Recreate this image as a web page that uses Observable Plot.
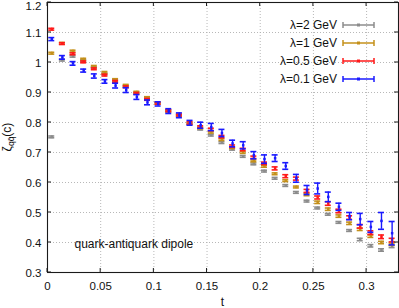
<!DOCTYPE html>
<html><head><meta charset="utf-8">
<script src="https://cdn.jsdelivr.net/npm/d3@7"></script>
<script src="https://cdn.jsdelivr.net/npm/@observablehq/plot@0.6"></script>
<style>
body{margin:0;background:#fff;}
#chart{width:399px;height:308px;}
</style></head><body><div id="chart"></div>
<script>
// ---- data ----
const tValues = [0.004,0.014,0.024,0.034,0.044,0.054,0.064,0.074,0.084,0.094,0.104,0.114,0.124,0.134,0.144,0.154,0.164,0.174,0.184,0.194,0.204,0.214,0.224,0.234,0.244,0.254,0.264,0.274,0.284,0.294,0.304,0.314,0.324];

const zetaL2 = [0.752,1.008,1.021,1.006,0.983,0.962,0.940,0.921,0.898,0.879,0.864,0.838,0.823,0.796,0.778,0.758,0.733,0.711,0.687,0.662,0.638,0.614,0.590,0.567,0.538,0.515,0.494,0.467,0.440,0.410,0.389,0.375,0.387];
const errL2  = [0.003,0.003,0.003,0.003,0.003,0.003,0.003,0.003,0.003,0.003,0.003,0.003,0.003,0.003,0.003,0.003,0.003,0.003,0.003,0.003,0.003,0.003,0.003,0.003,0.003,0.003,0.003,0.003,0.003,0.004,0.004,0.004,0.004];

const zetaL1 = [1.031,1.064,1.038,1.011,0.987,0.967,0.943,0.924,0.901,0.883,0.865,0.839,0.824,0.797,0.782,0.768,0.743,0.716,0.700,0.672,0.654,0.629,0.606,0.585,0.560,0.534,0.511,0.488,0.464,0.444,0.421,0.400,0.394];
const errL1  = [0.003,0.003,0.003,0.003,0.003,0.003,0.003,0.003,0.003,0.003,0.003,0.003,0.003,0.003,0.003,0.003,0.003,0.003,0.003,0.003,0.003,0.003,0.003,0.003,0.004,0.004,0.004,0.004,0.004,0.004,0.004,0.004,0.004];

const zetaL05 = [1.111,1.063,1.029,1.002,0.979,0.958,0.937,0.919,0.897,0.877,0.864,0.839,0.825,0.799,0.785,0.777,0.753,0.721,0.710,0.684,0.664,0.647,0.621,0.613,0.572,0.550,0.530,0.505,0.483,0.454,0.433,0.419,0.408];
const errL05  = [0.003,0.003,0.003,0.003,0.003,0.003,0.003,0.003,0.003,0.003,0.003,0.003,0.003,0.004,0.004,0.004,0.004,0.004,0.004,0.004,0.004,0.005,0.005,0.005,0.005,0.005,0.006,0.006,0.006,0.006,0.006,0.006,0.006];

const zetaL01 = [1.078,1.017,0.997,0.973,0.955,0.937,0.923,0.908,0.885,0.867,0.862,0.838,0.824,0.799,0.791,0.785,0.765,0.730,0.724,0.691,0.678,0.681,0.655,0.614,0.575,0.580,0.552,0.519,0.488,0.478,0.452,0.472,0.431];
const errL01  = [0.005,0.006,0.006,0.005,0.007,0.006,0.008,0.008,0.008,0.008,0.007,0.008,0.008,0.008,0.010,0.012,0.012,0.011,0.012,0.012,0.014,0.011,0.011,0.013,0.015,0.018,0.016,0.012,0.012,0.019,0.018,0.028,0.039];

const seriesNames  = ["λ=2 GeV","λ=1 GeV","λ=0.5 GeV","λ=0.1 GeV"];
const seriesColors = ["#8c8c8c","#c4901a","#ff1a1a","#1a1aff"];
const seriesValues = [zetaL2, zetaL1, zetaL05, zetaL01];
const seriesErrors = [errL2, errL1, errL05, errL01];

const xTicks = [0,0.05,0.1,0.15,0.2,0.25,0.3];
const xTickLabels = ["0","0.05","0.1","0.15","0.2","0.25","0.3"];
const yTicks = [0.3,0.4,0.5,0.6,0.7,0.8,0.9,1.0,1.1,1.2];
const yTickLabels = ["0.3","0.4","0.5","0.6","0.7","0.8","0.9","1","1.1","1.2"];
const annotation = ["quark-antiquark dipole"];

(function(){
// ---- layout ----
const W = 399, H = 308, mL = 47, mR = 1, mT = 2, mB = 36;
const xDomain = [0, 0.33], yDomain = [0.3, 1.2];
const capPx = 3;
const capHalf = capPx * (xDomain[1]-xDomain[0]) / (W - mL - mR);

const xFmt = new Map(xTicks.map((d,i)=>[d, xTickLabels[i]]));
const yFmt = new Map(yTicks.map((d,i)=>[d, yTickLabels[i]]));
const yTopTick = yTicks[yTicks.length-1];

const seriesMarks = seriesValues.flatMap((vals, si) => {
  const rows = tValues.map((t,i)=>({t, v: vals[i], e: seriesErrors[si][i]}));
  const c = seriesColors[si];
  return [
    Plot.ruleX(rows, {x:"t", y1: d=>d.v-d.e, y2: d=>d.v+d.e, stroke:c, strokeWidth:1.4}),
    Plot.ruleY(rows, {y: d=>d.v+d.e, x1: d=>d.t-capHalf, x2: d=>d.t+capHalf, stroke:c, strokeWidth:1.6}),
    Plot.ruleY(rows, {y: d=>d.v-d.e, x1: d=>d.t-capHalf, x2: d=>d.t+capHalf, stroke:c, strokeWidth:1.6}),
    Plot.dot(rows, {x:"t", y:"v", fill:c, r:1.4, symbol:"square"})
  ];
});

const plot = Plot.plot({
  width: W, height: H,
  marginLeft: mL, marginRight: mR, marginTop: mT, marginBottom: mB,
  style: {fontFamily: "'Liberation Sans', Arial, sans-serif", fontSize: "11.5px", color: "#111", background: "#fff"},
  x: {domain: xDomain},
  y: {domain: yDomain},
  marks: [
    Plot.gridX(xTicks, {stroke:"#b0b0b0", strokeOpacity:1, strokeDasharray:"1,2", strokeWidth:0.9}),
    Plot.gridY(yTicks, {stroke:"#b0b0b0", strokeOpacity:1, strokeDasharray:"1,2", strokeWidth:0.9}),
    Plot.axisX(xTicks, {tickFormat: d=>xFmt.get(d), tickSize:0, tickPadding:9.5, label:null}),
    Plot.axisY(yTicks.filter(d=>d!==yTopTick), {tickFormat: d=>yFmt.get(d), tickSize:0, tickPadding:6, dy:1, label:null}),
    Plot.axisY([yTopTick], {tickFormat: d=>yFmt.get(d), tickSize:0, tickPadding:6, dy:4, label:null}),
    ...seriesMarks,
    Plot.text(annotation, {text: d=>d, frameAnchor:"bottom-left", dx:27, dy:-25, textAnchor:"start", lineAnchor:"bottom", fontSize:12, fill:"#111"}),
    Plot.frame({stroke:"#1a1a1a", strokeWidth:1.1})
  ]
});

document.getElementById("chart").appendChild(plot);

// inward ticks on all four sides via the plot's own scales
const sx = plot.scale("x"), sy = plot.scale("y");
const svg = d3.select(plot);
const tk = svg.append("g").attr("stroke","#1a1a1a").attr("stroke-width",1);
const yTop = mT, yBot = H - mB, xLeft = mL, xRight = W - mR;
xTicks.forEach(v => {
  const x = sx.apply(v);
  tk.append("line").attr("x1",x).attr("x2",x).attr("y1",yBot).attr("y2",yBot-4);
  tk.append("line").attr("x1",x).attr("x2",x).attr("y1",yTop).attr("y2",yTop+4);
});
yTicks.forEach(v => {
  const y = sy.apply(v);
  tk.append("line").attr("y1",y).attr("y2",y).attr("x1",xLeft).attr("x2",xLeft+4);
  tk.append("line").attr("y1",y).attr("y2",y).attr("x1",xRight).attr("x2",xRight-4);
});

// axis titles
const ff = "'Liberation Sans', Arial, sans-serif";
svg.append("text").attr("x",(xLeft+xRight)/2).attr("y",306).attr("text-anchor","middle")
  .attr("font-family",ff).attr("font-size",12).attr("fill","#111").text("t");
const yl = svg.append("text").attr("transform",`translate(10.5,${(yTop+yBot)/2}) rotate(-90)`)
  .attr("text-anchor","middle").attr("font-family",ff).attr("font-size",12).attr("fill","#111");
yl.append("tspan").text("ζ");
yl.append("tspan").attr("dy",3).attr("font-size",8.5).text("qq\u0304");
yl.append("tspan").attr("dy",-3).text("(c)");

// legend (top right, inside the frame)
const lg = svg.append("g").attr("font-family",ff).attr("font-size",12);
seriesNames.forEach((name,i) => {
  const cy = 25 + 18*i;
  lg.append("text").attr("x",337).attr("y",cy).attr("dy","0.35em").attr("text-anchor","end").attr("fill","#111").text(name);
  const g = lg.append("g").attr("stroke",seriesColors[i]).attr("stroke-width",1.5);
  g.append("line").attr("x1",343).attr("x2",374).attr("y1",cy).attr("y2",cy);
  g.append("line").attr("x1",343).attr("x2",343).attr("y1",cy-3).attr("y2",cy+3);
  g.append("line").attr("x1",374).attr("x2",374).attr("y1",cy-3).attr("y2",cy+3);
  lg.append("rect").attr("x",357).attr("y",cy-1.5).attr("width",3).attr("height",3).attr("fill",seriesColors[i]);
});
})();
</script>
</body></html>
